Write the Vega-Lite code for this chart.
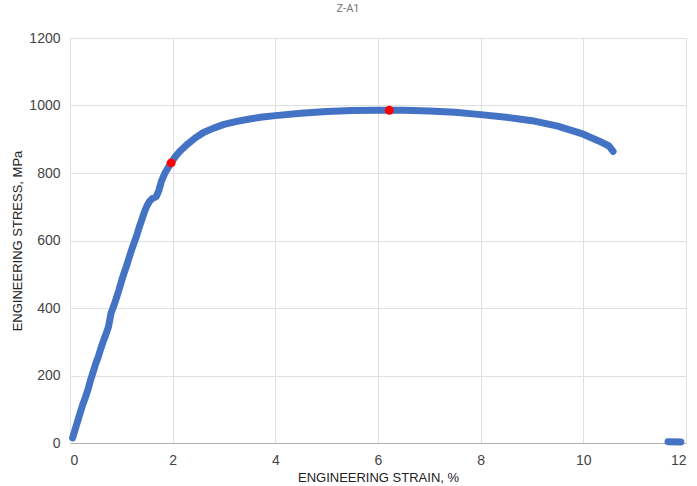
{
  "$schema": "https://vega.github.io/schema/vega-lite/v6.json",
  "width": 616,
  "height": 405,
  "autosize": {"type": "none"},
  "padding": {"left": 70, "top": 38, "right": 11, "bottom": 43},
  "background": "white",
  "title": {"text": "Z-A1", "fontSize": 11, "font": "Roboto", "fontWeight": "normal", "color": "#757575", "offset": 17, "dx": -30, "anchor": "middle"},
  "config": {
    "view": {"stroke": null},
    "axis": {"labelFont": "Liberation Sans", "titleFont": "Liberation Sans", "labelFontSize": 14, "labelColor": "#444444", "titleFontSize": 13, "titleFontWeight": "normal", "titleColor": "#222222", "gridColor": "#e0e0e0", "ticks": false, "labelPadding": 10}
  },
  "datasets": {
    "curve": [
      {"strain": 0.05, "stress": 15, "seg": "a"},
      {"strain": 0.1, "stress": 40, "seg": "a"},
      {"strain": 0.15, "stress": 65, "seg": "a"},
      {"strain": 0.2, "stress": 90, "seg": "a"},
      {"strain": 0.25, "stress": 115, "seg": "a"},
      {"strain": 0.3, "stress": 135, "seg": "a"},
      {"strain": 0.35, "stress": 158, "seg": "a"},
      {"strain": 0.4, "stress": 186, "seg": "a"},
      {"strain": 0.45, "stress": 210, "seg": "a"},
      {"strain": 0.5, "stress": 235, "seg": "a"},
      {"strain": 0.55, "stress": 255, "seg": "a"},
      {"strain": 0.6, "stress": 280, "seg": "a"},
      {"strain": 0.65, "stress": 302, "seg": "a"},
      {"strain": 0.7, "stress": 322, "seg": "a"},
      {"strain": 0.75, "stress": 345, "seg": "a"},
      {"strain": 0.8, "stress": 385, "seg": "a"},
      {"strain": 0.85, "stress": 405, "seg": "a"},
      {"strain": 0.9, "stress": 428, "seg": "a"},
      {"strain": 0.95, "stress": 452, "seg": "a"},
      {"strain": 1.0, "stress": 478, "seg": "a"},
      {"strain": 1.05, "stress": 502, "seg": "a"},
      {"strain": 1.1, "stress": 524, "seg": "a"},
      {"strain": 1.15, "stress": 548, "seg": "a"},
      {"strain": 1.2, "stress": 572, "seg": "a"},
      {"strain": 1.25, "stress": 594, "seg": "a"},
      {"strain": 1.3, "stress": 615, "seg": "a"},
      {"strain": 1.35, "stress": 640, "seg": "a"},
      {"strain": 1.4, "stress": 662, "seg": "a"},
      {"strain": 1.45, "stress": 685, "seg": "a"},
      {"strain": 1.5, "stress": 703, "seg": "a"},
      {"strain": 1.55, "stress": 716, "seg": "a"},
      {"strain": 1.6, "stress": 724, "seg": "a"},
      {"strain": 1.68, "stress": 730, "seg": "a"},
      {"strain": 1.73, "stress": 748, "seg": "a"},
      {"strain": 1.78, "stress": 775, "seg": "a"},
      {"strain": 1.85, "stress": 800, "seg": "a"},
      {"strain": 1.92, "stress": 818, "seg": "a"},
      {"strain": 1.97, "stress": 830, "seg": "a"},
      {"strain": 2.05, "stress": 848, "seg": "a"},
      {"strain": 2.15, "stress": 866, "seg": "a"},
      {"strain": 2.3, "stress": 887, "seg": "a"},
      {"strain": 2.45, "stress": 905, "seg": "a"},
      {"strain": 2.6, "stress": 920, "seg": "a"},
      {"strain": 2.8, "stress": 933, "seg": "a"},
      {"strain": 3.0, "stress": 944, "seg": "a"},
      {"strain": 3.25, "stress": 953, "seg": "a"},
      {"strain": 3.5, "stress": 960, "seg": "a"},
      {"strain": 3.75, "stress": 966, "seg": "a"},
      {"strain": 4.0, "stress": 970, "seg": "a"},
      {"strain": 4.5, "stress": 977, "seg": "a"},
      {"strain": 5.0, "stress": 982, "seg": "a"},
      {"strain": 5.5, "stress": 985, "seg": "a"},
      {"strain": 6.0, "stress": 986, "seg": "a"},
      {"strain": 6.5, "stress": 986, "seg": "a"},
      {"strain": 7.0, "stress": 984, "seg": "a"},
      {"strain": 7.5, "stress": 980, "seg": "a"},
      {"strain": 8.0, "stress": 973, "seg": "a"},
      {"strain": 8.5, "stress": 965, "seg": "a"},
      {"strain": 9.0, "stress": 955, "seg": "a"},
      {"strain": 9.5, "stress": 939, "seg": "a"},
      {"strain": 10.0, "stress": 915, "seg": "a"},
      {"strain": 10.3, "stress": 895, "seg": "a"},
      {"strain": 10.5, "stress": 880, "seg": "a"},
      {"strain": 10.58, "stress": 864, "seg": "a"},
      {"strain": 11.65, "stress": 4, "seg": "b"},
      {"strain": 11.9, "stress": 3, "seg": "b"}
    ],
    "marks": [
      {"strain": 1.97, "stress": 830},
      {"strain": 6.22, "stress": 986}
    ]
  },
  "layer": [
    {
      "data": {"name": "curve"},
      "mark": {"type": "line", "color": "#4472c4", "strokeWidth": 7, "strokeCap": "round", "strokeJoin": "round", "clip": false},
      "encoding": {
        "x": {"field": "strain", "type": "quantitative", "scale": {"domain": [0, 12], "nice": false}, "axis": {"values": [0, 2, 4, 6, 8, 10, 12], "format": "d", "title": "ENGINEERING STRAIN, %", "titlePadding": 4, "domainColor": "#b0b0b0"}},
        "y": {"field": "stress", "type": "quantitative", "scale": {"domain": [0, 1200], "nice": false}, "axis": {"values": [0, 200, 400, 600, 800, 1000, 1200], "format": "d", "title": "ENGINEERING STRESS, MPa", "titlePadding": 4, "domainColor": "#e0e0e0"}},
        "detail": {"field": "seg", "type": "nominal"}
      }
    },
    {
      "data": {"name": "marks"},
      "mark": {"type": "point", "filled": true, "color": "#ff0000", "size": 80, "opacity": 1},
      "encoding": {
        "x": {"field": "strain", "type": "quantitative"},
        "y": {"field": "stress", "type": "quantitative"}
      }
    }
  ]
}
